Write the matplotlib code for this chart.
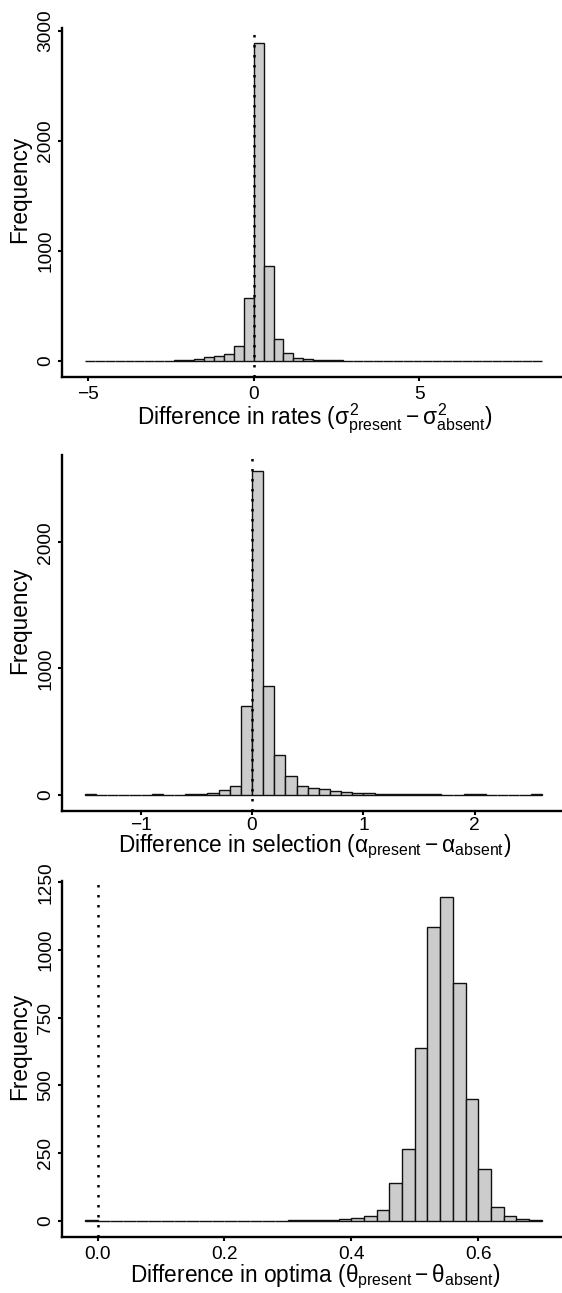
import matplotlib
matplotlib.use("Agg")
import matplotlib.pyplot as plt
import numpy as np
from matplotlib.ticker import FormatStrFormatter

plt.rcParams['font.family'] = ['Liberation Sans', 'DejaVu Sans']
plt.rcParams['mathtext.fontset'] = 'custom'
plt.rcParams['mathtext.rm'] = 'Liberation Sans'
plt.rcParams['mathtext.it'] = 'Liberation Sans'
plt.rcParams['mathtext.bf'] = 'Liberation Sans:bold'

# difference in rates (sigma^2), bins of 0.3 starting at -5.1
rate_start, rate_width = -5.1, 0.3
rate_counts = [1, 0, 0, 0, 0, 0, 0, 1, 2, 3, 8, 18, 34, 48, 61, 139, 567,
               2885, 858, 200, 70, 30, 15, 9, 5, 3, 2, 2, 1, 1, 1,
               0, 0, 0, 0, 0, 0, 0, 0, 0, 0, 0, 0, 0, 0, 1]
rate_ticks = [-5, 0, 5]
rate_yticks = [0, 1000, 2000, 3000]

# difference in selection (alpha), bins of 0.1 starting at -1.5
sel_start, sel_width = -1.5, 0.1
sel_counts = [1, 0, 0, 0, 0, 0, 2, 0, 0, 4, 5, 16, 37, 71, 699,
              2565, 863, 317, 145, 71, 55, 40, 29, 24, 13, 16, 8, 5, 5, 2,
              2, 1, 0, 0, 1, 2, 0, 0, 0, 0, 1]
sel_ticks = [-1, 0, 1, 2]
sel_yticks = [0, 1000, 2000]

# difference in optima (theta), bins of 0.02 starting at -0.02
opt_start, opt_width = -0.02, 0.02
opt_counts = [1, 0, 0, 0, 0, 0, 0, 0, 0, 0, 0, 0, 0, 0, 0, 0,
              1, 1, 1, 3, 7, 11, 17, 38, 139, 263, 637, 1086, 1195, 877,
              449, 191, 51, 16, 5, 1]
opt_ticks = [0.0, 0.2, 0.4, 0.6]
opt_yticks = [0, 250, 500, 750, 1000, 1250]

labels = [r'Difference in rates ($\sigma^2_{\mathrm{present}} - \sigma^2_{\mathrm{absent}}$)',
          r'Difference in selection ($\alpha_{\mathrm{present}} - \alpha_{\mathrm{absent}}$)',
          r'Difference in optima ($\theta_{\mathrm{present}} - \theta_{\mathrm{absent}}$)']

panels = [(rate_start, rate_width, rate_counts, rate_ticks, rate_yticks),
          (sel_start, sel_width, sel_counts, sel_ticks, sel_yticks),
          (opt_start, opt_width, opt_counts, opt_ticks, opt_yticks)]

W, H = 562, 1293
fig = plt.figure(figsize=(W / 100, H / 100), dpi=100)

# axes boxes in pixels: top, bottom
boxes = [(27.5, 376.7), (455, 810.7), (881, 1236.7)]
xlab_drop = [48, 41.5, 45]
xtick_pad = [4, 1.5, 4]
left, right = 62, 564.5

for i, (start, width, counts, xt, yt) in enumerate(panels):
    top, bot = boxes[i]
    ax = fig.add_axes([left / W, 1 - bot / H, (right - left) / W, (bot - top) / H])
    edges = start + width * np.arange(len(counts) + 1)
    ax.bar(edges[:-1], counts, width=width, align='edge', color='#cccccc',
           edgecolor='#111111', linewidth=1.0, zorder=2)
    ax.axvline(0, color='black', lw=1.8, linestyle=(0, (1, 3)), zorder=3)

    rng = edges[-1] - edges[0]
    ax.set_xlim(edges[0] - 0.05 * rng, edges[-1] + 0.05 * rng)
    ymax = max(counts)
    ax.set_ylim(-0.05 * ymax, 1.05 * ymax)

    ax.set_xticks(xt)
    ax.set_yticks(yt)
    if i == 2:
        ax.xaxis.set_major_formatter(FormatStrFormatter('%.1f'))

    for s in ['top', 'right']:
        ax.spines[s].set_visible(False)
    for s in ['left', 'bottom']:
        ax.spines[s].set_linewidth(1.7)
    ax.tick_params(axis='both', length=3, width=1.5, labelsize=13.8, direction='out')
    ax.tick_params(axis='x', pad=xtick_pad[i])
    ax.tick_params(axis='y', pad=2.5)
    for t in ax.get_yticklabels():
        t.set_rotation(90)
        t.set_va('center')

    ax.set_ylabel('Frequency', fontsize=16.3)
    ax.yaxis.label.set_va('center')
    ax.yaxis.set_label_coords((19.4 - left) / (right - left), 0.536)
    ax.set_xlabel(labels[i], fontsize=16.3, va='baseline')
    ax.xaxis.set_label_coords((315 - left) / (right - left), -xlab_drop[i] / (bot - top))

fig.savefig('out.png', dpi=100)
